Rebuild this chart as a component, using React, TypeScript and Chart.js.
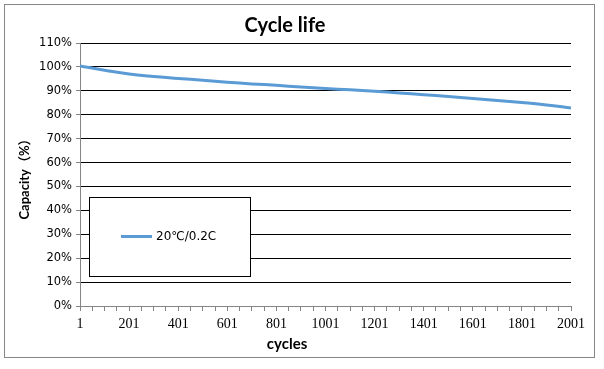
import React, { useEffect, useRef } from "react";
import { Chart, registerables } from "chart.js";

Chart.register(...registerables);

const cycles = [1, 101, 201, 301, 401, 501, 601, 701, 801, 901, 1001, 1101, 1201, 1301, 1401, 1501, 1601, 1701, 1801, 1901, 2001];
const capacity = [100.4, 98.6, 97.0, 96.0, 95.2, 94.4, 93.6, 92.9, 92.3, 91.6, 91.0, 90.4, 89.8, 89.1, 88.4, 87.6, 86.8, 86.0, 85.1, 84.1, 82.8];
const xLabelTicks = [1, 201, 401, 601, 801, 1001, 1201, 1401, 1601, 1801, 2001];
const xMinorStep = 50;
const seriesName = "20℃/0.2C";
const chartTitle = "Cycle life";
const xTitle = "cycles";
const yTitle = "Capacity（%）";

const GRAY = "#868686";
const BLUE = "#5B9BD5";

const decorPlugin = {
  id: "decor",
  beforeDraw(chart: any) {
    const ctx = chart.ctx;
    ctx.save();
    ctx.fillStyle = "#fff";
    ctx.fillRect(0, 0, chart.width, chart.height);
    ctx.strokeStyle = GRAY;
    ctx.lineWidth = 1;
    ctx.strokeRect(4.5, 4.5, 590, 353);
    ctx.restore();
  },
  afterDraw(chart: any) {
    const ctx = chart.ctx;
    ctx.save();
    ctx.fillStyle = "#000";
    ctx.textAlign = "center";
    ctx.textBaseline = "alphabetic";
    ctx.font = "bold 20px Lato, 'Noto Sans', sans-serif";
    ctx.fillText(chartTitle, 285, 32);
    ctx.font = "bold 15px Lato, 'Noto Sans', sans-serif";
    ctx.fillText(xTitle, 287, 349);
    ctx.save();
    ctx.translate(29, 176);
    ctx.rotate(-Math.PI / 2);
    ctx.textBaseline = "alphabetic";
    ctx.font = "bold 13px Lato, 'Noto Sans CJK SC', sans-serif";
    ctx.fillText(yTitle, 0, 0);
    ctx.restore();
    ctx.fillStyle = "#fff";
    ctx.fillRect(89.5, 197.5, 161, 79);
    ctx.strokeStyle = "#000";
    ctx.lineWidth = 1;
    ctx.strokeRect(89.5, 197.5, 161, 79);
    ctx.strokeStyle = BLUE;
    ctx.lineWidth = 3;
    ctx.beginPath();
    ctx.moveTo(121, 236.5);
    ctx.lineTo(152, 236.5);
    ctx.stroke();
    ctx.fillStyle = "#000";
    ctx.textAlign = "left";
    ctx.textBaseline = "middle";
    ctx.font = "12px 'DejaVu Sans', 'Noto Sans CJK SC', sans-serif";
    ctx.fillText(seriesName, 156, 237);
    ctx.restore();
  },
};

export default function App() {
  const ref = useRef<HTMLCanvasElement | null>(null);
  useEffect(() => {
    if (!ref.current) return;
    const chart = new Chart(ref.current, {
      type: "line",
      data: {
        datasets: [
          {
            label: seriesName,
            data: cycles.map((c, i) => ({ x: c, y: capacity[i] })),
            borderColor: BLUE,
            backgroundColor: BLUE,
            borderWidth: 3,
            pointRadius: 0,
            tension: 0.4,
            fill: false,
          },
        ],
      },
      options: {
        animation: false,
        responsive: false,
        maintainAspectRatio: false,
        layout: { padding: { left: 0, right: 33, top: 43, bottom: 0 } },
        plugins: {
          legend: { display: false },
          title: { display: false },
          tooltip: { enabled: false },
        },
        scales: {
          x: {
            type: "linear",
            min: 1,
            max: 2001,
            afterBuildTicks(scale: any) {
              const t: any[] = [];
              for (let v = 1; v <= 2001; v += xMinorStep) t.push({ value: v });
              scale.ticks = t;
            },
            afterFit(scale: any) {
              scale.height = 63;
            },
            ticks: {
              autoSkip: false,
              maxRotation: 0,
              minRotation: 0,
              padding: 5,
              color: "#000",
              font: { family: "'Liberation Serif', serif", size: 14 },
              callback: (v: any) => (xLabelTicks.includes(Number(v)) ? String(v) : ""),
            },
            grid: {
              drawOnChartArea: false,
              drawTicks: true,
              tickLength: 5,
              tickColor: GRAY,
              color: GRAY,
            },
            border: { display: true, color: GRAY, width: 1 },
          },
          y: {
            type: "linear",
            min: 0,
            max: 110,
            afterFit(scale: any) {
              scale.width = 80;
            },
            ticks: {
              stepSize: 10,
              padding: 4,
              color: "#000",
              font: { family: "'DejaVu Sans', sans-serif", size: 11.5 },
              callback: (v: any) => `${v}%`,
            },
            grid: {
              color: "#000",
              lineWidth: 1,
              drawTicks: true,
              tickLength: 4,
              tickColor: GRAY,
            },
            border: { display: true, color: GRAY, width: 1 },
          },
        },
      },
      plugins: [decorPlugin],
    });
    return () => chart.destroy();
  }, []);
  return (
    <div style={{ position: "fixed", left: 0, top: 0, width: 604, height: 369 }}>
      <canvas ref={ref} width={604} height={369} style={{ width: 604, height: 369 }} />
    </div>
  );
}
